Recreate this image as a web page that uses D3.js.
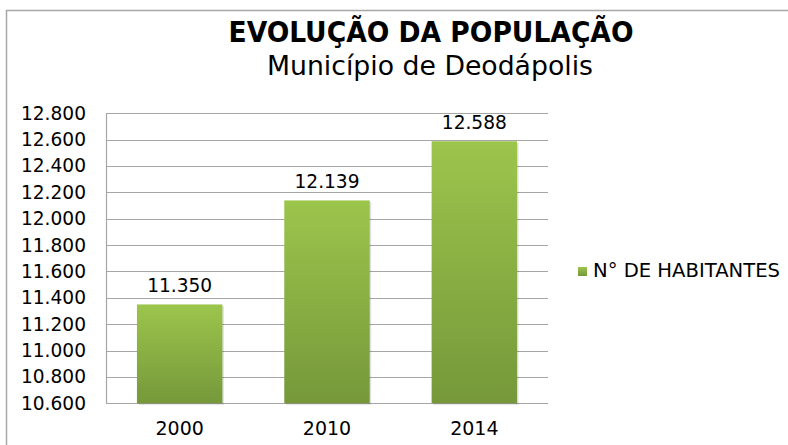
<!DOCTYPE html>
<html><head><meta charset="utf-8">
<script src="https://cdn.jsdelivr.net/npm/d3@7"></script>
<style>body{margin:0;background:#fff}svg{display:block}</style>
</head><body>
<script>
const categories = ["2000", "2010", "2014"];
const values = [11350, 12139, 12588];
const yTicks = [10600, 10800, 11000, 11200, 11400, 11600, 11800, 12000, 12200, 12400, 12600, 12800];
const seriesName = "N° DE HABITANTES";
const title = "EVOLUÇÃO DA POPULAÇÃO";
const subtitle = "Município de Deodápolis";

const W = 788, H = 445;
const svg = d3.select("body").append("svg").attr("width", W).attr("height", H);
const fmt = v => d3.format(",")(v).replace(/,/g, ".");

const defs = svg.append("defs");
const grad = defs.append("linearGradient").attr("id", "g").attr("x1", 0).attr("y1", 0).attr("x2", 0).attr("y2", 1);
grad.append("stop").attr("offset", "0%").attr("stop-color", "#9cc54c");
grad.append("stop").attr("offset", "100%").attr("stop-color", "#76983a");

// outer frame
svg.append("rect").attr("x", 6.5).attr("y", 10.5).attr("width", 800).attr("height", 460)
  .attr("fill", "#fff").attr("stroke", "#a6a6a6").attr("stroke-width", 1.5);

const x0 = 106, x1 = 548, yTop = 113.3, yBot = 403.3;
const x = d3.scaleBand().domain(categories).range([x0, x1]).paddingInner(0.42).paddingOuter(0.21);
const y = d3.scaleLinear().domain([10600, 12800]).range([yBot, yTop]);

const font = "'DejaVu Sans', Verdana, sans-serif";
const fs = 18.6;

// gridlines
svg.append("g").selectAll("line").data(yTicks).join("line")
  .attr("x1", x0).attr("x2", x1).attr("y1", d => Math.round(y(d)) + 0.5).attr("y2", d => Math.round(y(d)) + 0.5)
  .attr("stroke", "#a6a6a6").attr("stroke-width", 1.2);
svg.append("line").attr("x1", x0 + 0.5).attr("x2", x0 + 0.5).attr("y1", yTop).attr("y2", yBot)
  .attr("stroke", "#a6a6a6").attr("stroke-width", 1.2);

// y axis labels
const yAxis = d3.axisLeft(y).tickValues(yTicks).tickFormat(fmt).tickSize(0).tickPadding(20);
const ga = svg.append("g").attr("transform", `translate(${x0},0)`).call(yAxis);
ga.select(".domain").remove();
ga.selectAll("text").attr("font-family", font).attr("font-size", fs).attr("fill", "#000");

// x axis labels
const xAxis = d3.axisBottom(x).tickSize(0).tickPadding(18);
const gx = svg.append("g").attr("transform", `translate(0,${yBot})`).call(xAxis);
gx.select(".domain").remove();
gx.selectAll("text").attr("font-family", font).attr("font-size", 19).attr("fill", "#000");

// bar shadows
svg.append("g").selectAll("rect").data(values).join("rect")
  .attr("x", (d, i) => x(categories[i]) + 1.5).attr("y", d => y(d) + 1.5)
  .attr("width", x.bandwidth()).attr("height", d => yBot - y(d))
  .attr("fill", "#000").attr("opacity", 0.12);
// bars
svg.append("g").selectAll("rect").data(values).join("rect")
  .attr("x", (d, i) => x(categories[i])).attr("y", d => y(d))
  .attr("width", x.bandwidth()).attr("height", d => yBot - y(d))
  .attr("fill", "url(#g)");

// data labels
svg.append("g").selectAll("text").data(values).join("text")
  .attr("x", (d, i) => x(categories[i]) + x.bandwidth() / 2).attr("y", d => y(d) - 12)
  .attr("text-anchor", "middle").attr("font-family", font).attr("font-size", fs).attr("fill", "#000")
  .text(fmt);

// title
svg.append("text").attr("x", 431).attr("y", 42).attr("text-anchor", "middle")
  .attr("font-family", "'DejaVu Sans Condensed', 'DejaVu Sans', sans-serif").attr("font-weight", "bold")
  .attr("font-size", 28).attr("textLength", 405).attr("lengthAdjust", "spacingAndGlyphs").text(title);
svg.append("text").attr("x", 430).attr("y", 75).attr("text-anchor", "middle")
  .attr("font-family", "'DejaVu Sans Condensed', 'DejaVu Sans', sans-serif")
  .attr("font-size", 26).attr("textLength", 326).attr("lengthAdjust", "spacingAndGlyphs").text(subtitle);

// legend
svg.append("rect").attr("x", 578).attr("y", 267).attr("width", 9).attr("height", 9).attr("fill", "url(#g)");
svg.append("text").attr("x", 593).attr("y", 277).attr("font-family", font).attr("font-size", fs)
  .attr("textLength", 187).attr("lengthAdjust", "spacingAndGlyphs").text(seriesName);
</script>
</body></html>
